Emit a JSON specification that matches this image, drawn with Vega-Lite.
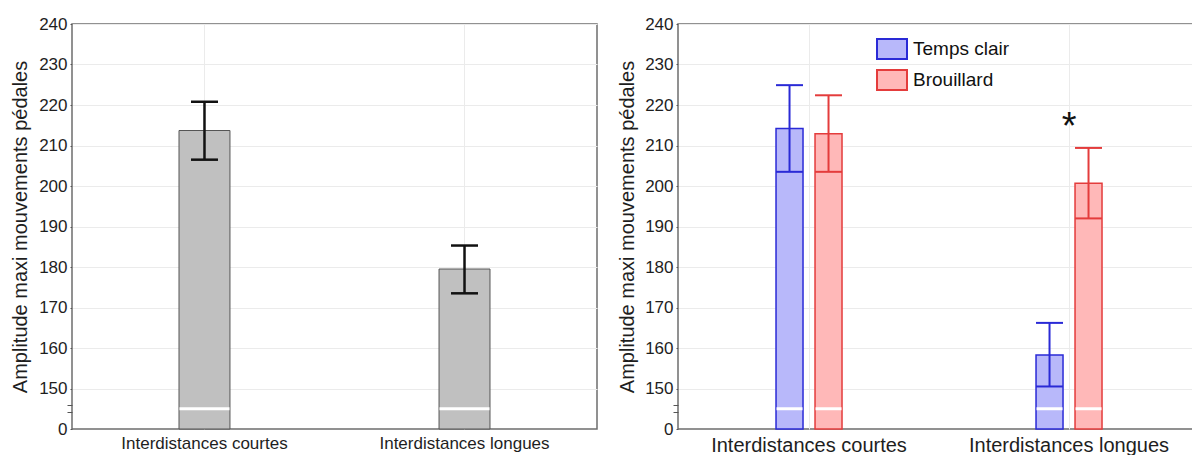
{
  "$schema": "https://vega.github.io/schema/vega-lite/v6.json",
  "background": "white",
  "padding": {"left": 9, "top": 14, "right": 0, "bottom": 0},
  "spacing": 18,
  "config": {
    "font": "Liberation Sans",
    "view": {"stroke": "#6e6e6e", "strokeWidth": 1.5},
    "axis": {
      "labelColor": "#1e1e1e",
      "titleColor": "#1e1e1e",
      "labelFont": "Liberation Sans",
      "titleFont": "Liberation Sans",
      "titleFontWeight": "normal",
      "gridColor": "#ebebeb",
      "gridWidth": 1,
      "domain": false,
      "tickColor": "#555555",
      "labelOverlap": false,
      "labelLimit": 400
    }
  },
  "datasets": {
    "single": [
      {"distance": "Interdistances courtes", "mean": 213.7, "lo": 206.5, "hi": 220.8},
      {"distance": "Interdistances longues", "mean": 179.5, "lo": 173.5, "hi": 185.3}
    ],
    "grouped": [
      {"distance": "Interdistances courtes", "cond": "Temps clair", "mean": 214.2, "lo": 203.5, "hi": 224.9},
      {"distance": "Interdistances courtes", "cond": "Brouillard", "mean": 212.9, "lo": 203.5, "hi": 222.4},
      {"distance": "Interdistances longues", "cond": "Temps clair", "mean": 158.3, "lo": 150.5, "hi": 166.2},
      {"distance": "Interdistances longues", "cond": "Brouillard", "mean": 200.7, "lo": 192.0, "hi": 209.4}
    ],
    "star": [
      {"distance": "Interdistances longues", "y": 215.5, "label": "*"}
    ]
  },
  "hconcat": [
    {
      "width": 525,
      "height": 405,
      "data": {"name": "single"},
      "encoding": {
        "x": {
          "field": "distance",
          "type": "nominal",
          "sort": null,
          "scale": {"paddingInner": 0.804, "paddingOuter": 0.4115},
          "axis": {"title": null, "labelAngle": 0, "labelFontSize": 17, "labelPadding": 6, "tickSize": 0, "grid": true}
        }
      },
      "layer": [
        {
          "mark": {"type": "bar", "fill": "#c0c0c0", "stroke": "#555555", "strokeWidth": 1},
          "encoding": {
            "y": {
              "field": "mean",
              "type": "quantitative",
              "scale": {"domain": [140, 240], "nice": false, "zero": false},
              "axis": {
                "title": "Amplitude maxi mouvements pédales",
                "titleFontSize": 20,
                "titlePadding": 8,
                "labelFontSize": 17,
                "labelPadding": 3,
                "labelOverlap": false,
                "tickCount": 40,
                "tickSize": {"condition": {"test": "datum.value % 10 != 0", "value": 5}, "value": 2},
                "values": [140, 144.3, 145.9, 150, 160, 170, 180, 190, 200, 210, 220, 230, 240],
                "labelExpr": "datum.value == 140 ? '0' : (datum.value % 10 == 0 ? datum.label : '')",
                "grid": true,
                "gridOpacity": {"condition": {"test": "datum.value % 10 != 0 || datum.value == 140", "value": 0}, "value": 1}
              }
            },
            "y2": {"datum": 140}
          }
        },
        {
          "mark": {"type": "tick", "color": "white", "thickness": 3, "size": 50, "opacity": 1},
          "encoding": {"y": {"datum": 145}}
        },
        {
          "mark": {"type": "rule", "color": "#111111", "strokeWidth": 2.5},
          "encoding": {"y": {"field": "lo", "type": "quantitative"}, "y2": {"field": "hi"}}
        },
        {
          "mark": {"type": "tick", "color": "#111111", "thickness": 2.5, "size": 27, "opacity": 1},
          "encoding": {"y": {"field": "lo", "type": "quantitative"}}
        },
        {
          "mark": {"type": "tick", "color": "#111111", "thickness": 2.5, "size": 27, "opacity": 1},
          "encoding": {"y": {"field": "hi", "type": "quantitative"}}
        }
      ]
    },
    {
      "width": 516,
      "height": 405,
      "layer": [
        {
          "data": {"name": "grouped"},
          "encoding": {
            "x": {
              "field": "distance",
              "type": "nominal",
              "sort": null,
              "scale": {"paddingInner": 0.5, "paddingOuter": 0.2423, "align": 0.524},
              "axis": {"title": null, "labelAngle": 0, "labelFontSize": 20, "labelPadding": 6, "tickSize": 0, "grid": true}
            },
            "xOffset": {
              "field": "cond",
              "type": "nominal",
              "sort": ["Temps clair", "Brouillard"],
              "scale": {"paddingInner": 0.3077, "paddingOuter": 0.8205}
            }
          },
          "layer": [
            {
              "mark": {"type": "bar", "strokeWidth": 1.5},
              "encoding": {
                "y": {
                  "field": "mean",
                  "type": "quantitative",
                  "scale": {"domain": [140, 240], "nice": false, "zero": false},
                  "axis": {
                    "title": "Amplitude maxi mouvements pédales",
                    "titleFontSize": 20,
                    "titlePadding": 7,
                    "labelFontSize": 17,
                    "labelPadding": 3,
                    "labelOverlap": false,
                    "tickCount": 40,
                    "tickSize": {"condition": {"test": "datum.value % 10 != 0", "value": 5}, "value": 2},
                    "values": [140, 144.3, 145.9, 150, 160, 170, 180, 190, 200, 210, 220, 230, 240],
                    "labelExpr": "datum.value == 140 ? '0' : (datum.value % 10 == 0 ? datum.label : '')",
                    "grid": true,
                    "gridOpacity": {"condition": {"test": "datum.value % 10 != 0 || datum.value == 140", "value": 0}, "value": 1}
                  }
                },
                "y2": {"datum": 140},
                "fill": {
                  "field": "cond",
                  "type": "nominal",
                  "scale": {"domain": ["Temps clair", "Brouillard"], "range": ["#b8b8fa", "#ffb8b8"]},
                  "legend": {
                    "orient": "none",
                    "legendX": 809,
                    "legendY": 14,
                    "title": null,
                    "labelFontSize": 19,
                    "labelColor": "#111111",
                    "labelFont": "Liberation Sans",
                    "symbolType": "M-1.5,-1H1.5V1H-1.5Z",
                    "symbolSize": 400,
                    "symbolStrokeWidth": 2,
                    "symbolOpacity": 1,
                    "labelOffset": 10,
                    "rowPadding": 3
                  }
                },
                "stroke": {
                  "field": "cond",
                  "type": "nominal",
                  "scale": {"domain": ["Temps clair", "Brouillard"], "range": ["#2a2ad6", "#e43c3c"]},
                  "legend": {
                    "orient": "none",
                    "legendX": 809,
                    "legendY": 14,
                    "title": null,
                    "labelFontSize": 19,
                    "labelColor": "#111111",
                    "labelFont": "Liberation Sans",
                    "symbolType": "M-1.5,-1H1.5V1H-1.5Z",
                    "symbolSize": 400,
                    "symbolStrokeWidth": 2,
                    "symbolOpacity": 1,
                    "labelOffset": 10,
                    "rowPadding": 3
                  }
                }
              }
            },
            {
              "mark": {"type": "tick", "color": "white", "thickness": 3, "size": 26, "opacity": 1},
              "encoding": {"y": {"datum": 145}}
            },
            {
              "mark": {"type": "rule", "strokeWidth": 2},
              "encoding": {
                "y": {"field": "lo", "type": "quantitative"},
                "y2": {"field": "hi"},
                "stroke": {"field": "cond", "type": "nominal"}
              }
            },
            {
              "mark": {"type": "tick", "thickness": 2, "size": 27, "opacity": 1},
              "encoding": {
                "y": {"field": "lo", "type": "quantitative"},
                "color": {"field": "cond", "type": "nominal", "scale": {"domain": ["Temps clair", "Brouillard"], "range": ["#2a2ad6", "#e43c3c"]}, "legend": null}
              }
            },
            {
              "mark": {"type": "tick", "thickness": 2, "size": 27, "opacity": 1},
              "encoding": {
                "y": {"field": "hi", "type": "quantitative"},
                "color": {"field": "cond", "type": "nominal", "legend": null}
              }
            }
          ]
        },
        {
          "data": {"name": "star"},
          "mark": {"type": "text", "fontSize": 38, "font": "Liberation Sans", "color": "#111111", "baseline": "middle", "dy": 5},
          "encoding": {
            "x": {"field": "distance", "type": "nominal", "sort": null},
            "y": {"field": "y", "type": "quantitative"},
            "text": {"field": "label"}
          }
        }
      ]
    }
  ]
}
